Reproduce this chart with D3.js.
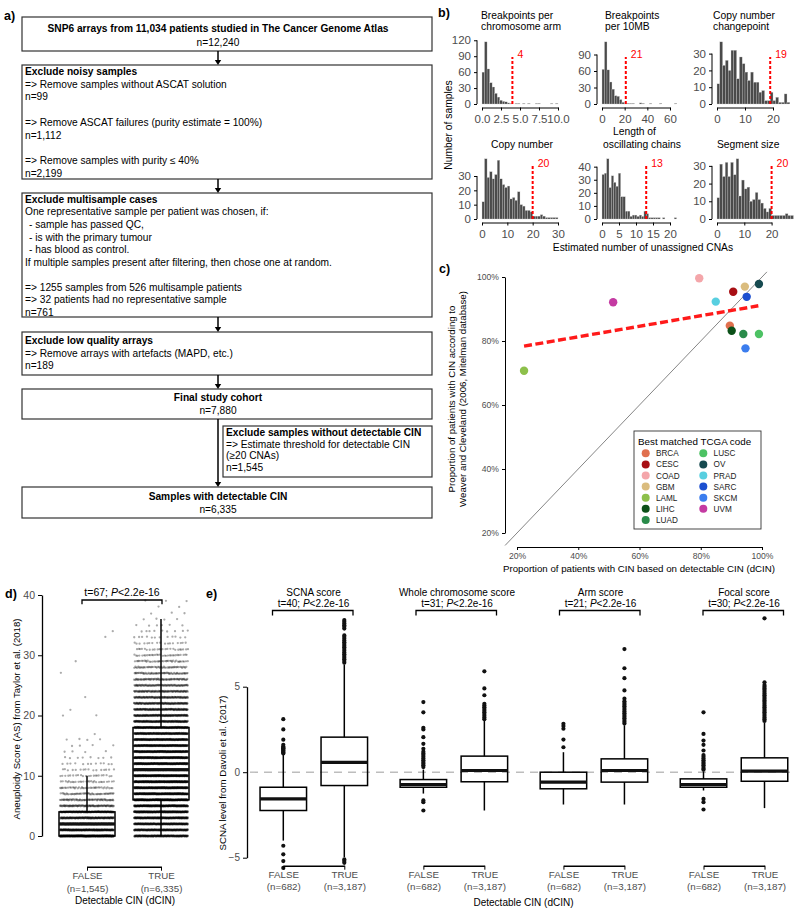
<!DOCTYPE html>
<html><head><meta charset="utf-8">
<script src="https://cdn.jsdelivr.net/npm/d3@7/dist/d3.min.js"></script>
<style>
html,body{margin:0;padding:0;background:#fff;}
svg{display:block;}
svg text{font-family:"Liberation Sans",Arial,Helvetica,sans-serif;}
</style></head><body>
<svg id="fig" width="800" height="914" xmlns="http://www.w3.org/2000/svg"></svg>
<script>
// ================= DATA =================
// ---- Panel a: flowchart ----
const flowTitles = [
  "SNP6 arrays from 11,034 patients studied in The Cancer Genome Atlas",
  "Exclude noisy samples",
  "Exclude multisample cases",
  "Exclude low quality arrays",
  "Final study cohort",
  "Exclude samples without detectable CIN",
  "Samples with detectable CIN"
];
const flowLines = [
  ["n=12,240"],
  ["=> Remove samples without ASCAT solution","n=99","","=> Remove ASCAT failures (purity estimate = 100%)","n=1,112","","=> Remove samples with purity \u2264 40%","n=2,199"],
  ["One representative sample per patient was chosen, if:","  - sample has passed QC,","  - is with the primary tumour","  - has blood as control.","If multiple samples present after filtering, then chose one at random.","","=> 1255 samples from 526 multisample patients","=> 32 patients had no representative sample","n=761"],
  ["=> Remove arrays with artefacts (MAPD, etc.)","n=189"],
  ["n=7,880"],
  ["=> Estimate threshold for detectable CIN","(\u226520 CNAs)","n=1,545"],
  ["n=6,335"]
];

// ---- Panel b: histograms ----
const histTitles = [["Breakpoints per","chromosome arm"],["Breakpoints","per 10MB"],["Copy number","changepoint"],["Copy number"],["Length of","oscillating chains"],["Segment size"]];
const histThresholds = [4, 21, 19, 20, 13, 20];
const histBinWidths = [1/3, 2.2, 1, 1, 0.685, 1];
const histCountsArm   = [60,117,66,40,32,20,13,7,5,4,2,1,0,1,1,0,1,0,1,0,0,1,1,0,0,0,0,1,0,1];
const histCounts10MB  = [63,113,62,40,27,15,14,8,3,1,1,1,1,0,0,2,1,0,0,1,0,0,0,1,0,0,0,0,0,1];
const histCountsCNCP  = [12,37,23,26,20,32,32,15,28,24,19,14,19,13,13,7,8,2,2,7,2,4,1,1,6,1];
const histCountsCN    = [12,42,29,33,28,31,41,28,24,22,23,14,15,13,19,10,9,6,6,5,2,2,2,3,2,1,1,1,1,1];
const histCountsOsc   = [34,35,46,24,33,28,25,35,17,17,6,6,2,3,3,2,3,2,6,4,1,1,1,1,1,0,1,0,0,0,0,1];
const histCountsSeg   = [12,31,24,32,24,32,25,34,13,22,17,18,10,11,15,11,9,6,4,6,2,2,2,2,2,3,2,2];
const histXTicks = [[0,2.5,5,7.5,10],[0,20,40,60],[0,10,20],[0,10,20,30],[0,5,10,15,20],[0,10,20]];
const histYTicks = [[0,30,60,90,120],[0,30,60,90],[0,10,20,30],[0,10,20,30],[0,10,20,30,40],[0,10,20,30]];

// ---- Panel c: scatter ----
const tcgaCodes   = ["BRCA","CESC","COAD","GBM","LAML","LIHC","LUAD","LUSC","OV","PRAD","SARC","SKCM","UVM"];
const tcgaColors  = ["#E0704E","#A80F14","#F4A6AA","#DABC7E","#8DC04B","#0B5018","#2A8B4A","#4DC264","#164A50","#58CFE0","#1C4FD0","#3B7DEE","#C43AA2"];
const dcinPct     = [89.5, 90.6, 79.5, 94.4, 22.3, 90.1, 93.9, 99.0, 99.0, 84.9, 95.0, 94.6, 51.4];
const mitelmanPct = [84.8, 95.4, 99.6, 97.0, 70.7, 83.2, 82.2, 82.2, 97.8, 92.3, 93.8, 77.7, 92.1];
const fitLineX = [22.3, 98.8];
const fitLineY = [78.4, 91.0];
const cTicks = [20, 40, 60, 80, 100];

// ---- Panel d: aneuploidy score ----
const dGroups = ["FALSE","TRUE"];
const dGroupN = ["(n=1,545)","(n=6,335)"];
const dQ1 = [0, 6], dMedian = [2, 11], dQ3 = [4, 18], dWhiskLo = [0, 0], dWhiskHi = [10, 36];
// approximate number of samples per integer AS value (index = AS value)
const dCountsFalse = [360,250,230,190,150,100,70,50,38,28,22,16,12,8,4,4,4,1,0,0,2,1,0,1,0,0,0,1,0,1,0,0,0,1,1];
const dCountsTrue  = [224,224,235,246,269,280,291,297,302,302,302,297,285,274,263,252,241,224,207,190,173,157,140,123,106,90,76,63,50,40,31,24,17,12,9,6,4,3,2,3];
const dTicks = [0,10,20,30,40];

// ---- Panel e: Davoli SCNA scores ----
const eScores = ["SCNA score","Whole chromosome score","Arm score","Focal score"];
const eTstat  = ["t=40; ","t=31; ","t=21; ","t=30; "];
const eGroupN = ["(n=682)","(n=3,187)"];
const eFalseQ1 = [-2.24,-0.88,-0.97,-0.88], eFalseMed = [-1.56,-0.72,-0.58,-0.72], eFalseQ3 = [-0.88,-0.43,0.0,-0.39];
const eFalseLo = [-4.0,-1.25,-1.89,-1.07], eFalseHi = [1.07,0.15,1.17,0.05];
const eTrueQ1  = [-0.78,-0.56,-0.58,-0.53], eTrueMed  = [0.58,0.1,0.1,0.06], eTrueQ3  = [2.05,0.94,0.78,0.84];
const eTrueLo  = [-4.97,-2.24,-1.89,-2.1], eTrueHi  = [6.3,3.0,2.75,2.9];
const eOutFalse = [
  [1.1,1.15,1.2,1.25,1.3,1.35,1.4,1.45,1.5,1.6,1.9,2.5,3.1,-4.3,-4.8,-5.2,-5.6],
  [0.3,0.4,0.5,0.6,0.7,0.8,0.9,1.0,1.1,1.2,1.37,1.66,2.05,2.5,2.6,3.5,4.1,-1.65,-1.75,-2.24],
  [1.46,1.91,2.54,2.7,2.83],
  [0.15,0.2,0.3,0.4,0.5,0.6,0.7,0.8,0.9,1.0,1.27,1.6,1.85,2.24,3.5,-1.56,-1.75,-2.18]
];
const eOutTrue = [
  [6.4,6.5,6.6,6.7,6.8,6.9,7.0,7.1,7.2,7.3,7.4,7.5,7.6,7.7,7.8,7.9,8.0,8.4,8.5,8.6,8.7,8.8,8.9,-5.1,-5.2,-5.3],
  [3.1,3.2,3.3,3.4,3.5,3.6,3.7,3.8,3.9,4.0,4.5,4.9,5.9],
  [2.85,2.95,3.05,3.15,3.25,3.35,3.45,3.55,3.65,3.75,3.85,3.95,4.05,4.15,4.3,4.78,5.5,6.08,7.2],
  [3.0,3.1,3.2,3.3,3.4,3.5,3.6,3.7,3.8,3.9,4.0,4.1,4.2,4.3,4.4,4.5,4.6,4.7,4.8,4.9,5.0,5.1,5.26,9.0]
];
const eTicks = [-5, 0, 5];

// ================= DRAWING =================
const svg = d3.select("#fig");
const FONT = '"Liberation Sans", Arial, Helvetica, sans-serif';
const GRAY = "#4d4d4d";

function styleAxis(sel, fs) {
  sel.attr("font-family", FONT);
  sel.select(".domain").attr("stroke", "#000").attr("stroke-width", 1);
  sel.selectAll(".tick line").attr("stroke", "#000").attr("stroke-width", 1);
  sel.selectAll(".tick text").attr("fill", GRAY).attr("font-size", fs);
}
function panelLabel(x, y, s) {
  svg.append("text").attr("x", x).attr("y", y).attr("font-size", 12.5).attr("font-weight", "bold").text(s);
}
panelLabel(4, 19.5, "a)");
panelLabel(438, 17, "b)");
panelLabel(439, 272.5, "c)");
panelLabel(5, 597.5, "d)");
panelLabel(206, 597.5, "e)");

// ---------- Panel a ----------
(function () {
  const layout = [
    {x:22, y:17,  w:410, h:34,  center:true, first:11.3, lh:14.4},
    {x:22, y:65,  w:410, h:114, first:6.2, lh:12.8},
    {x:22, y:193, w:410, h:124, first:6.3, lh:12.52},
    {x:22, y:332, w:410, h:43,  first:8,   lh:12.9},
    {x:22, y:389, w:410, h:30,  center:true, first:8.3, lh:12.7},
    {x:223,y:426, w:209, h:51,  first:6.7, lh:11.55},
    {x:22, y:487, w:410, h:31,  center:true, first:9.7, lh:12.6}
  ];
  const fs = 10.2;
  const g = svg.append("g").attr("font-size", fs);
  layout.forEach((L, i) => {
    g.append("rect").attr("x", L.x).attr("y", L.y).attr("width", L.w).attr("height", L.h)
      .attr("fill", "none").attr("stroke", "#333").attr("stroke-width", 1.2);
    const lines = [flowTitles[i]].concat(flowLines[i]);
    lines.forEach((s, j) => {
      if (!s) return;
      let x = L.center ? 218 : L.x + 3;
      let str = s;
      if (!L.center && s.startsWith("  ")) { x += 4; str = s.trim(); }
      const t = g.append("text").attr("x", x).attr("y", L.y + L.first + 0.36 * fs + j * L.lh)
        .attr("text-anchor", L.center ? "middle" : "start").text(str);
      if (j === 0) t.attr("font-weight", "bold");
    });
  });
  const arrows = [[51,65],[179,193],[317,332],[375,389],[419,487]];
  arrows.forEach(([a, b]) => {
    g.append("line").attr("x1", 218).attr("x2", 218).attr("y1", a).attr("y2", b - 4)
      .attr("stroke", "#000").attr("stroke-width", 1.5);
    g.append("path").attr("d", `M${218-3.2},${b-5} L${218+3.2},${b-5} L218,${b} Z`).attr("fill", "#000");
  });
})();

// ---------- Panel b ----------
(function () {
  const counts = [histCountsArm, histCounts10MB, histCountsCNCP, histCountsCN, histCountsOsc, histCountsSeg];
  const layout = [
    {x0:482, len:76, base:104, top:40,  lineTop:57,  tx:[481,481], ty:[18.5,30]},
    {x0:602, len:68, base:104, top:40,  lineTop:57,  tx:[605,605], ty:[18.5,30]},
    {x0:717, len:56, base:104, top:40,  lineTop:57,  tx:[713,713], ty:[18.5,30]},
    {x0:482, len:76, base:219, top:157, lineTop:166, tx:[491],     ty:[148]},
    {x0:602, len:68, base:219, top:157, lineTop:166, tx:[613,603], ty:[134.5,148]},
    {x0:717, len:54.6, base:219, top:157, lineTop:166, tx:[717],   ty:[148]}
  ];
  counts.forEach((cnt, k) => {
    const L = layout[k];
    const xt = histXTicks[k], yt = histYTicks[k];
    const x = d3.scaleLinear().domain([0, xt[xt.length - 1]]).range([L.x0, L.x0 + L.len]);
    const y = d3.scaleLinear().domain([0, d3.max(cnt) * 1.03]).range([L.base, L.top]);
    const w = histBinWidths[k];
    const g = svg.append("g");
    g.selectAll("rect").data(cnt.map((c, i) => ({c, i})).filter(d => d.c > 0)).join("rect")
      .attr("x", d => x(d.i * w)).attr("width", d => x((d.i + 1) * w) - x(d.i * w))
      .attr("y", d => y(d.c)).attr("height", d => y(0) - y(d.c))
      .attr("fill", "#4a4a4a").attr("stroke", "#d0d0d0").attr("stroke-width", 0.3);
    const ax = g.append("g").attr("transform", `translate(0,${L.base + 3.5})`)
      .call(d3.axisBottom(x).tickValues(xt).tickSize(3).tickSizeOuter(0)
        .tickFormat(k === 0 ? d3.format(".1f") : d3.format("d")));
    styleAxis(ax, 11.5);
    ax.selectAll(".tick text").attr("dy", "0.85em");
    const ay = g.append("g").attr("transform", `translate(${L.x0 - 5},0)`)
      .call(d3.axisLeft(y).tickValues(yt).tickSize(3).tickSizeOuter(0));
    styleAxis(ay, 11.5);
    ay.select(".domain").attr("d", `M0,${y(0)}V${y(yt[yt.length - 1])}`);
    const th = histThresholds[k];
    g.append("line").attr("x1", x(th)).attr("x2", x(th)).attr("y1", L.base).attr("y2", L.lineTop)
      .attr("stroke", "#ff0000").attr("stroke-width", 2).attr("stroke-dasharray", "3,2");
    g.append("text").attr("x", x(th) + 5).attr("y", L.lineTop + 1).attr("fill", "#ff0000")
      .attr("font-size", 10.5).text(th);
    histTitles[k].forEach((s, j) => {
      g.append("text").attr("x", L.tx[j]).attr("y", L.ty[j]).attr("font-size", 10.3).text(s);
    });
  });
  svg.append("text").attr("transform", "translate(452,125) rotate(-90)").attr("text-anchor", "middle")
    .attr("font-size", 10.3).text("Number of samples");
  svg.append("text").attr("x", 643).attr("y", 251).attr("text-anchor", "middle")
    .attr("font-size", 10.3).text("Estimated number of unassigned CNAs");
})();

// ---------- Panel c ----------
(function () {
  const x = d3.scaleLinear().domain([20, 100]).range([517, 762]);
  const y = d3.scaleLinear().domain([20, 100]).range([533, 277]);
  const g = svg.append("g");
  g.append("line").attr("x1", x(16.1)).attr("y1", y(16.1)).attr("x2", x(101.6)).attr("y2", y(101.6))
    .attr("stroke", "#666").attr("stroke-width", 0.8);
  const ax = g.append("g").attr("transform", "translate(0,547)")
    .call(d3.axisBottom(x).tickValues(cTicks).tickSize(3).tickSizeOuter(0).tickFormat(d => d + "%"));
  styleAxis(ax, 8.6);
  const ay = g.append("g").attr("transform", "translate(505,0)")
    .call(d3.axisLeft(y).tickValues(cTicks).tickSize(3).tickSizeOuter(0).tickFormat(d => d + "%"));
  styleAxis(ay, 8.6);
  g.append("line").attr("x1", x(fitLineX[0])).attr("y1", y(fitLineY[0]))
    .attr("x2", x(fitLineX[1])).attr("y2", y(fitLineY[1]))
    .attr("stroke", "#ff1a1a").attr("stroke-width", 3.4).attr("stroke-dasharray", "8,3.5");
  g.selectAll("circle.pt").data(tcgaCodes).join("circle").attr("class", "pt")
    .attr("cx", (d, i) => x(dcinPct[i])).attr("cy", (d, i) => y(mitelmanPct[i]))
    .attr("r", 4.2).attr("fill", (d, i) => tcgaColors[i]);
  svg.append("text").attr("x", 639).attr("y", 571.5).attr("text-anchor", "middle").attr("font-size", 9.7)
    .text("Proportion of patients with CIN based on detectable CIN (dCIN)");
  svg.append("text").attr("transform", "translate(455,399) rotate(-90)").attr("text-anchor", "middle").attr("font-size", 9.7)
    .text("Proportion of patients with CIN according to");
  svg.append("text").attr("transform", "translate(465.5,399) rotate(-90)").attr("text-anchor", "middle").attr("font-size", 9.7)
    .text("Weaver and Cleveland (2006, Mitelman database)");
  const lg = svg.append("g");
  lg.append("rect").attr("x", 634).attr("y", 431).attr("width", 127).attr("height", 98)
    .attr("fill", "#fff").attr("stroke", "#333").attr("stroke-width", 0.9);
  lg.append("text").attr("x", 638).attr("y", 444.5).attr("font-size", 9.8).text("Best matched TCGA code");
  tcgaCodes.forEach((c, i) => {
    const col = i < 7 ? 0 : 1, row = i < 7 ? i : i - 7;
    const cx = col === 0 ? 645.7 : 703.3, cy = 453.3 + row * 11.1;
    lg.append("circle").attr("cx", cx).attr("cy", cy).attr("r", 4).attr("fill", tcgaColors[i]);
    lg.append("text").attr("x", cx + 10.3).attr("y", cy + 3).attr("font-size", 8.2).attr("fill", "#222").text(c);
  });
})();

// ---------- Panel d ----------
(function () {
  const y = d3.scaleLinear().domain([0, 40]).range([836, 595]);
  const x = d3.scalePoint().domain(dGroups).range([87, 161]);
  const bw = 56;
  const g = svg.append("g");
  const ay = g.append("g").attr("transform", "translate(42,0)")
    .call(d3.axisLeft(y).tickValues(dTicks).tickSize(4).tickSizeOuter(0));
  styleAxis(ay, 10.5);
  ay.select(".domain").attr("stroke-width", 1.3);
  const pts = [];
  [dCountsFalse, dCountsTrue].forEach((counts, gi) => {
    counts.forEach((c, v) => {
      for (let i = 0; i < c; i++) {
        const f = ((i + 0.5) * 0.6180339887 + v * 0.1373 + gi * 0.31) % 1;
        const f2 = ((i + 0.5) * 0.7548776662 + v * 0.21) % 1;
        pts.push({g: dGroups[gi], v, f, f2});
      }
    });
  });
  dGroups.forEach((grp, i) => {
    const cx = x(grp);
    g.append("line").attr("x1", cx).attr("x2", cx).attr("y1", y(dQ3[i])).attr("y2", y(dWhiskHi[i]))
      .attr("stroke", "#000").attr("stroke-width", 1.5);
    g.append("line").attr("x1", cx).attr("x2", cx).attr("y1", y(dQ1[i])).attr("y2", y(dWhiskLo[i]))
      .attr("stroke", "#000").attr("stroke-width", 1.5);
    g.append("rect").attr("x", cx - bw / 2).attr("width", bw).attr("y", y(dQ3[i])).attr("height", y(dQ1[i]) - y(dQ3[i]))
      .attr("fill", "#fff").attr("stroke", "#000").attr("stroke-width", 1.5);
  });
  g.append("g").selectAll("circle").data(pts).join("circle")
    .attr("cx", d => x(d.g) + (d.f - 0.5) * (bw - 2))
    .attr("cy", d => y(d.v) + (d.f2 - 0.5) * 1.2)
    .attr("r", 1.15).attr("fill", "#000").attr("fill-opacity", 0.33);
  dGroups.forEach((grp, i) => {
    const cx = x(grp);
    g.append("line").attr("x1", cx - bw / 2).attr("x2", cx + bw / 2).attr("y1", y(dMedian[i])).attr("y2", y(dMedian[i]))
      .attr("stroke", "#111").attr("stroke-width", 3);
  });
  const ax = g.append("g").attr("transform", "translate(0,866.7)")
    .call(d3.axisBottom(x).tickSize(4).tickSizeOuter(0));
  styleAxis(ax, 9.7);
  ax.select(".domain").attr("stroke-width", 1.5);
  ax.selectAll(".tick text").each(function (d, i) {
    const t = d3.select(this).text(null).attr("dy", null).attr("y", 12.3);
    t.append("tspan").attr("x", 0).text(d);
    t.append("tspan").attr("x", 0).attr("dy", 12.7).text(dGroupN[i]);
  });
  const mid = (x(dGroups[0]) + x(dGroups[1])) / 2;
  g.append("path").attr("d", `M${mid - 42},604.3V600H${mid + 38}V604.3`).attr("fill", "none")
    .attr("stroke", "#000").attr("stroke-width", 1.3);
  const tt = g.append("text").attr("x", mid - 2).attr("y", 595.5).attr("text-anchor", "middle").attr("font-size", 10.5);
  tt.append("tspan").text("t=67; ");
  tt.append("tspan").attr("font-style", "italic").text("P");
  tt.append("tspan").text("<2.2e-16");
  svg.append("text").attr("x", 125).attr("y", 904).attr("text-anchor", "middle").attr("font-size", 10)
    .text("Detectable CIN (dCIN)");
  svg.append("text").attr("transform", "translate(20,719) rotate(-90)").attr("text-anchor", "middle").attr("font-size", 9.6)
    .text("Aneuploidy Score (AS) from Taylor et al. (2018)");
})();

// ---------- Panel e ----------
(function () {
  const y = d3.scaleLinear().domain([-5, 5]).range([857.7, 686.7]);
  const gx = d3.scalePoint().domain(eScores).range([313.8, 734]);
  const ann = d3.scalePoint().domain(eScores).range([313.5, 744]);
  const inner = d3.scalePoint().domain(["FALSE","TRUE"]).range([-30.5, 30.5]);
  const bw = 46.5;
  const g = svg.append("g");
  const ay = g.append("g").attr("transform", "translate(247,0)")
    .call(d3.axisLeft(y).tickValues(eTicks).tickSize(4).tickSizeOuter(0));
  styleAxis(ay, 10);
  ay.select(".domain").attr("stroke-width", 1.3);
  g.append("line").attr("x1", 250).attr("x2", 796).attr("y1", y(0)).attr("y2", y(0))
    .attr("stroke", "#bdbdbd").attr("stroke-width", 1.4).attr("stroke-dasharray", "8,6");
  const stats = {
    FALSE: {q1: eFalseQ1, med: eFalseMed, q3: eFalseQ3, lo: eFalseLo, hi: eFalseHi, out: eOutFalse},
    TRUE:  {q1: eTrueQ1,  med: eTrueMed,  q3: eTrueQ3,  lo: eTrueLo,  hi: eTrueHi,  out: eOutTrue}
  };
  eScores.forEach((sc, i) => {
    ["FALSE","TRUE"].forEach(grp => {
      const s = stats[grp];
      const cx = gx(sc) + inner(grp);
      g.append("line").attr("x1", cx).attr("x2", cx).attr("y1", y(s.q3[i])).attr("y2", y(s.hi[i])).attr("stroke", "#000").attr("stroke-width", 1.5);
      g.append("line").attr("x1", cx).attr("x2", cx).attr("y1", y(s.q1[i])).attr("y2", y(s.lo[i])).attr("stroke", "#000").attr("stroke-width", 1.5);
      g.append("rect").attr("x", cx - bw / 2).attr("width", bw).attr("y", y(s.q3[i])).attr("height", y(s.q1[i]) - y(s.q3[i]))
        .attr("fill", "none").attr("stroke", "#000").attr("stroke-width", 1.5);
      g.append("line").attr("x1", cx - bw / 2).attr("x2", cx + bw / 2).attr("y1", y(s.med[i])).attr("y2", y(s.med[i]))
        .attr("stroke", "#111").attr("stroke-width", 3.2);
      g.append("g").selectAll("circle").data(s.out[i]).join("circle")
        .attr("cx", cx).attr("cy", d => y(d)).attr("r", 2.1).attr("fill", "#111");
    });
    const xs = d3.scalePoint().domain(["FALSE","TRUE"]).range([gx(sc) + inner("FALSE"), gx(sc) + inner("TRUE")]);
    const ax = g.append("g").attr("transform", "translate(0,865.7)")
      .call(d3.axisBottom(xs).tickSize(4).tickSizeOuter(0));
    styleAxis(ax, 9.8);
    ax.select(".domain").attr("stroke-width", 1.5);
    ax.selectAll(".tick text").each(function (d, j) {
      const t = d3.select(this).text(null).attr("dy", null).attr("y", 12.8);
      t.append("tspan").attr("x", 0).text(d);
      t.append("tspan").attr("x", 0).attr("dy", 11.6).text(eGroupN[j]);
    });
    const c = ann(sc);
    g.append("text").attr("x", c).attr("y", 595.7).attr("text-anchor", "middle").attr("font-size", 10).text(sc);
    const tt = g.append("text").attr("x", c).attr("y", 606.7).attr("text-anchor", "middle").attr("font-size", 10);
    tt.append("tspan").text(eTstat[i]);
    tt.append("tspan").attr("font-style", "italic").text("P");
    tt.append("tspan").text("<2.2e-16");
    g.append("path").attr("d", `M${c - 41},615.5V610.5H${c + 39.5}V615.5`).attr("fill", "none")
      .attr("stroke", "#000").attr("stroke-width", 1.3);
  });
  svg.append("text").attr("x", 523.5).attr("y", 905.5).attr("text-anchor", "middle").attr("font-size", 10)
    .text("Detectable CIN (dCIN)");
  svg.append("text").attr("transform", "translate(226,773) rotate(-90)").attr("text-anchor", "middle").attr("font-size", 9.7)
    .text("SCNA level from Davoli et al. (2017)");
})();
</script>
</body></html>
